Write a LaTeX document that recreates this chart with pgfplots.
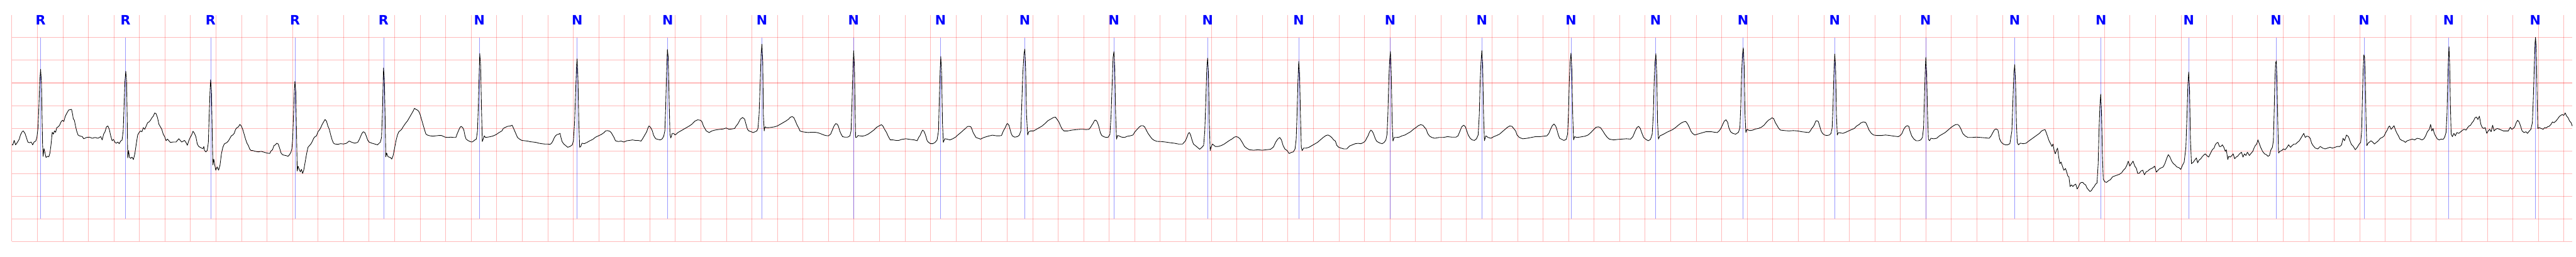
\documentclass[border=0pt]{standalone}
\usepackage{fontspec}
\usepackage{pgfplots}
\usepackage{pgfplotstable}
\pgfplotsset{compat=1.18}
\newfontfamily\lblfont{DejaVu Sans}

% ECG trace (x: horizontal position along the strip, y: vertical position, grid every 89.9 / 138.44 units)
\pgfplotstableread{
x y
42 884
45 886
50 858
55 885
62 868
68 850
72 825
78 805
82 800
88 815
93 840
98 868
104 872
110 868
115 885
120 868
126 862
130 840
134 780
137 650
140 500
143 423
146 500
148 700
150 880
152 955
155 908
158 930
162 962
168 955
172 958
176 935
180 880
184 808
188 820
192 800
196 808
200 780
205 775
210 765
215 745
220 735
225 742
230 710
236 690
242 672
248 670
252 668
256 700
258 725
262 735
266 770
270 800
275 825
280 830
290 835
295 848
305 840
315 838
325 845
335 840
345 845
355 835
360 855
365 820
370 805
375 775
380 770
385 790
390 830
395 860
400 852
405 870
410 875
415 868
420 878
425 862
430 856
434 800
437 650
440 500
443 435
446 500
448 720
450 965
453 920
456 960
460 968
465 960
470 975
475 940
480 880
485 825
490 810
495 800
500 805
505 780
510 790
515 770
520 750
525 745
530 735
535 720
540 710
545 690
550 695
555 720
560 760
565 775
570 790
575 820
580 835
585 860
590 850
595 860
600 870
610 868
620 868
630 848
640 868
650 858
655 870
660 888
665 860
670 840
675 825
680 802
685 815
690 835
695 880
700 895
705 900
710 905
715 908
718 895
720 918
725 928
730 920
734 870
737 700
740 550
742 487
745 560
748 850
750 1008
753 972
757 1012
760 1040
765 1020
770 1040
775 1010
780 940
785 900
790 880
795 875
800 870
805 860
810 845
815 830
820 825
825 815
830 790
835 780
840 775
845 760
850 770
855 790
860 820
865 850
870 875
875 890
880 912
885 920
890 920
900 925
910 928
920 925
930 930
940 935
950 938
955 922
960 915
965 890
970 885
975 875
980 880
985 905
990 935
995 945
1000 948
1010 952
1015 955
1020 945
1025 930
1028 910
1031 850
1034 700
1037 550
1039 497
1042 560
1045 850
1047 1045
1050 1015
1054 1035
1058 1050
1062 1035
1066 1060
1070 1040
1075 990
1080 940
1085 900
1090 890
1095 880
1100 865
1105 845
1110 835
1115 830
1120 805
1125 795
1130 780
1135 760
1140 745
1145 730
1150 740
1155 770
1160 790
1165 825
1170 855
1175 875
1180 880
1190 882
1200 878
1210 880
1220 876
1230 862
1240 870
1250 875
1260 870
1265 855
1270 835
1275 815
1280 805
1285 810
1290 830
1295 855
1300 868
1310 875
1320 880
1330 885
1340 868
1344 840
1347 700
1349 550
1351 415
1354 480
1357 750
1359 958
1362 935
1366 955
1370 960
1375 962
1380 972
1385 950
1390 905
1395 860
1400 825
1405 805
1410 798
1415 790
1420 775
1425 762
1430 750
1435 740
1440 725
1445 710
1450 695
1455 680
1460 662
1465 668
1470 672
1475 680
1480 700
1485 730
1490 760
1495 790
1500 818
1505 825
1515 830
1525 832
1535 830
1545 828
1555 828
1568 838
1578 840
1588 838
1598 840
1606 840
1610 820
1616 795
1620 780
1624 772
1630 780
1634 795
1638 830
1642 850
1648 858
1656 865
1663 868
1668 862
1673 855
1678 850
1682 800
1685 650
1688 450
1690 327
1693 400
1696 650
1699 865
1702 850
1706 830
1710 840
1718 838
1728 835
1738 830
1748 822
1758 810
1768 800
1773 785
1778 780
1788 772
1798 770
1804 765
1808 780
1813 800
1818 820
1823 840
1830 850
1838 858
1848 860
1858 862
1868 866
1878 868
1888 870
1898 875
1908 878
1918 880
1928 880
1938 882
1943 875
1948 860
1953 840
1958 828
1963 822
1968 820
1973 815
1976 840
1980 865
1986 880
1993 890
2000 900
2008 895
2016 885
2020 860
2024 750
2028 550
2031 400
2033 360
2036 480
2039 750
2042 900
2046 895
2050 875
2058 878
2068 870
2078 860
2088 852
2098 838
2108 830
2118 822
2128 810
2133 800
2140 798
2148 802
2153 810
2158 825
2163 840
2168 860
2178 865
2188 862
2198 868
2208 860
2218 858
2228 855
2238 858
2248 858
2258 862
2263 850
2268 835
2273 820
2278 805
2283 780
2286 770
2290 775
2294 785
2298 800
2302 825
2306 838
2310 848
2318 852
2326 855
2333 848
2338 832
2342 800
2345 650
2348 450
2351 302
2354 350
2357 600
2360 820
2363 843
2368 815
2373 815
2378 825
2383 818
2388 810
2398 800
2408 790
2418 780
2428 770
2438 758
2448 740
2458 732
2468 735
2473 745
2478 770
2483 785
2488 800
2493 805
2498 810
2508 800
2518 795
2528 792
2538 790
2548 788
2558 782
2568 790
2578 788
2588 785
2593 770
2598 760
2603 745
2608 728
2616 718
2623 728
2628 760
2633 790
2638 800
2646 805
2653 810
2660 805
2666 800
2670 785
2674 700
2678 500
2681 330
2684 270
2687 380
2689 700
2692 800
2695 775
2700 780
2708 780
2718 778
2728 775
2738 770
2748 760
2758 750
2768 740
2778 728
2783 718
2790 712
2796 718
2802 740
2808 765
2813 780
2818 800
2826 805
2838 808
2848 810
2858 808
2868 808
2878 810
2888 815
2898 822
2908 828
2918 830
2926 820
2932 795
2938 770
2944 755
2950 760
2954 775
2958 800
2963 820
2968 835
2976 838
2986 838
2994 830
2998 800
3001 650
3004 450
3007 310
3010 400
3012 650
3014 840
3018 838
3023 828
3028 830
3038 832
3048 828
3058 820
3068 808
3078 795
3088 778
3098 768
3105 762
3110 770
3116 790
3123 810
3128 830
3136 855
3146 855
3156 858
3166 858
3176 852
3191 848
3206 852
3221 855
3231 860
3236 840
3241 828
3246 808
3250 795
3254 800
3258 815
3262 835
3266 860
3271 870
3278 878
3286 878
3294 870
3301 855
3306 800
3309 600
3312 420
3314 345
3317 450
3320 750
3323 870
3328 848
3336 850
3346 855
3356 848
3366 838
3376 822
3386 808
3394 795
3401 785
3408 773
3414 772
3420 775
3424 790
3428 810
3433 825
3438 840
3446 845
3454 850
3466 840
3481 832
3496 826
3511 830
3521 830
3528 828
3532 810
3536 795
3541 780
3546 760
3549 755
3554 765
3558 790
3562 815
3566 830
3574 838
3584 835
3591 825
3596 800
3599 650
3603 450
3607 330
3610 300
3613 420
3616 700
3620 825
3624 805
3631 800
3641 800
3651 790
3661 780
3671 770
3681 755
3691 738
3701 728
3711 718
3718 716
3724 730
3730 745
3736 770
3742 790
3748 800
3761 800
3776 795
3791 792
3806 790
3816 790
3826 792
3836 790
3841 780
3846 765
3851 752
3856 735
3861 735
3866 748
3871 775
3876 810
3881 828
3888 835
3896 840
3904 838
3910 820
3914 700
3918 500
3921 350
3924 315
3927 420
3930 700
3933 850
3937 828
3941 830
3951 838
3961 840
3971 833
3981 830
3991 825
3998 805
4006 790
4014 775
4020 768
4026 768
4032 775
4038 795
4044 815
4051 832
4058 848
4066 858
4076 864
4091 865
4106 868
4121 872
4136 875
4151 880
4166 880
4176 860
4182 835
4186 815
4190 810
4194 825
4199 855
4204 880
4211 890
4218 900
4226 912
4234 900
4240 888
4244 800
4248 600
4251 420
4254 355
4257 450
4260 750
4263 920
4266 900
4271 880
4281 895
4291 895
4301 890
4311 882
4321 870
4331 858
4341 848
4348 838
4354 835
4361 838
4368 848
4376 870
4384 895
4391 905
4401 915
4416 918
4431 915
4446 918
4461 915
4476 912
4486 898
4494 868
4501 850
4508 840
4514 855
4520 890
4526 910
4534 920
4541 938
4548 932
4556 928
4562 910
4566 850
4569 700
4572 500
4575 375
4578 450
4581 700
4584 900
4587 920
4592 905
4601 905
4611 900
4621 890
4631 880
4641 870
4651 855
4661 840
4671 828
4678 825
4684 830
4691 840
4698 855
4704 862
4709 888
4716 900
4724 905
4734 910
4744 910
4754 892
4764 885
4774 878
4784 876
4794 878
4804 870
4810 860
4814 845
4819 830
4824 808
4829 795
4834 802
4839 820
4844 845
4849 862
4854 868
4862 875
4869 878
4876 870
4882 855
4886 820
4889 700
4892 500
4895 370
4898 315
4901 450
4904 750
4907 862
4911 840
4919 840
4929 838
4939 830
4949 825
4959 815
4969 805
4979 790
4989 778
4996 768
5004 762
5012 765
5019 780
5024 790
5029 815
5036 832
5044 840
5054 845
5069 840
5084 840
5099 835
5114 838
5129 838
5136 830
5142 805
5149 775
5156 765
5162 775
5166 795
5172 825
5179 845
5186 855
5194 858
5201 848
5207 825
5211 700
5214 500
5217 380
5220 308
5223 400
5226 700
5229 860
5234 830
5242 840
5252 845
5262 835
5272 828
5282 820
5292 805
5302 790
5310 778
5318 770
5326 772
5332 785
5339 800
5344 825
5352 840
5364 848
5379 845
5394 840
5409 835
5424 835
5439 832
5449 830
5456 815
5462 790
5468 768
5474 758
5480 770
5484 790
5489 822
5494 845
5502 852
5509 858
5517 852
5522 820
5525 700
5528 500
5531 380
5534 325
5537 420
5540 700
5543 855
5547 835
5554 840
5564 838
5574 835
5584 832
5594 825
5604 810
5612 795
5622 778
5630 775
5638 780
5646 800
5654 822
5662 840
5669 850
5684 855
5699 852
5714 850
5729 848
5744 850
5752 835
5759 805
5766 780
5772 772
5778 785
5784 815
5790 840
5798 852
5806 860
5814 852
5820 820
5824 700
5827 500
5830 380
5833 328
5836 450
5839 750
5842 850
5847 830
5854 825
5862 818
5872 808
5882 800
5892 792
5902 780
5912 765
5922 752
5930 745
5938 742
5944 755
5950 775
5956 800
5962 815
5970 825
5979 820
5989 815
5999 810
6009 805
6019 805
6029 805
6039 808
6049 810
6056 800
6062 785
6068 762
6074 740
6080 732
6086 748
6090 780
6096 805
6104 815
6114 820
6124 808
6129 780
6132 650
6135 450
6138 330
6141 292
6144 400
6147 700
6150 810
6154 790
6159 795
6164 798
6174 795
6184 788
6194 785
6204 778
6214 765
6222 748
6229 735
6236 728
6242 720
6248 725
6254 750
6261 770
6266 785
6272 795
6287 798
6302 800
6317 798
6332 800
6347 805
6362 808
6372 810
6377 800
6382 785
6387 775
6392 760
6396 740
6400 738
6405 742
6410 770
6415 800
6420 815
6427 825
6435 828
6444 825
6450 815
6454 780
6457 650
6460 450
6463 330
6466 400
6469 700
6472 825
6476 810
6482 812
6492 815
6502 808
6512 800
6522 792
6532 785
6540 770
6548 762
6556 750
6564 745
6572 748
6578 770
6584 795
6592 815
6600 825
6612 828
6627 828
6642 825
6657 828
6672 832
6687 835
6694 828
6700 815
6706 790
6712 775
6718 768
6724 772
6728 800
6734 830
6742 850
6750 860
6758 860
6766 855
6772 840
6776 780
6779 600
6782 420
6784 350
6787 450
6790 700
6793 850
6797 860
6802 845
6812 848
6822 845
6832 830
6842 820
6852 810
6862 795
6872 780
6880 770
6888 762
6896 760
6902 770
6908 790
6914 815
6922 830
6932 840
6947 840
6962 838
6977 840
6992 842
7007 845
7014 830
7020 810
7026 792
7032 788
7038 795
7044 850
7050 870
7057 880
7064 885
7072 885
7080 878
7087 800
7091 600
7094 450
7097 395
7100 500
7103 750
7106 870
7110 885
7117 875
7127 878
7137 875
7144 865
7152 855
7160 845
7168 835
7176 825
7184 815
7192 800
7198 795
7204 792
7208 810
7212 830
7218 860
7224 880
7228 895
7232 880
7236 920
7240 940
7244 920
7248 905
7252 960
7256 1000
7260 990
7264 1010
7270 1040
7276 1030
7280 1050
7284 1075
7288 1080
7292 1140
7297 1130
7302 1140
7307 1130
7312 1125
7317 1155
7322 1140
7327 1120
7332 1115
7337 1115
7342 1125
7347 1130
7352 1150
7357 1160
7362 1170
7367 1165
7372 1150
7377 1140
7382 1125
7387 1118
7391 1000
7394 800
7397 650
7400 575
7403 700
7406 950
7409 1095
7414 1110
7420 1115
7427 1105
7434 1098
7442 1080
7450 1075
7458 1070
7466 1065
7474 1055
7480 1040
7486 1030
7492 1010
7497 985
7502 1015
7508 1000
7514 985
7520 1015
7526 1030
7530 1060
7536 1058
7542 1045
7548 1040
7554 1068
7560 1050
7566 1045
7572 1035
7578 1030
7584 1025
7590 1015
7596 1052
7602 1040
7608 1030
7614 1025
7620 1020
7626 1000
7632 970
7638 945
7644 960
7650 985
7656 1000
7662 1008
7668 1020
7676 1025
7682 1035
7688 1010
7694 990
7700 900
7704 700
7707 520
7710 440
7713 550
7716 850
7719.7 1000
7726.6 990
7732.7 975
7737.0 965
7741.3 995
7745.6 980
7752.5 970
7758.6 955
7764.6 945
7768.1 940
7773.3 950
7780.2 960
7787.1 935
7793.1 915
7799.2 905
7803.5 885
7807.8 875
7813.0 870
7818.2 895
7823.4 895
7828.5 885
7833.7 900
7838.9 925
7842.4 915
7847.6 975
7851.0 955
7856.2 960
7862.2 950
7866.6 940
7871.7 970
7876.9 960
7882.1 955
7889.0 940
7895.9 930
7901.1 960
7906.3 940
7911.5 950
7916.7 930
7923.6 950
7930.5 935
7935.7 925
7940.0 905
7944.3 890
7949.5 880
7953.8 855
7958.1 875
7963.3 900
7970.2 925
7977.1 940
7983.2 945
7989.2 955
7994.4 950
7999.6 915
8004.8 900
8008.2 860
8010.8 700
8013.4 500
8016.0 385
8018.6 372
8021.2 500
8023.8 750
8026.4 935
8030.7 925
8037.6 920
8043.7 910
8049.7 915
8056.6 900
8061.8 885
8068.7 900
8073.9 890
8080.8 880
8086.8 880
8092.9 870
8099.8 860
8105.0 845
8110.2 830
8115.3 815
8120.5 840
8125.7 832
8132.6 835
8137.8 845
8143.0 875
8148.2 890
8155.9 905
8164.6 910
8173.2 895
8181.9 905
8190.5 910
8199.1 905
8207.8 900
8216.4 905
8225.1 900
8233.7 895
8242.3 895
8248.4 885
8253.6 845
8258.8 860
8265.7 825
8272.6 835
8277.8 860
8282.9 882
8289.8 895
8296.8 915
8303.7 900
8310.6 880
8315.8 870
8319.2 800
8321.8 600
8324.4 430
8327.0 335
8329.6 350
8332.2 500
8334.8 750
8337.4 890
8341.7 875
8346.9 868
8352.0 860
8359.0 870
8364.1 880
8371.0 870
8378.0 860
8384.9 845
8391.8 840
8398.7 830
8403.9 810
8409.1 795
8414.2 775
8417.7 770
8422.9 790
8428.1 780
8433.2 768
8438.4 795
8443.6 815
8448.8 830
8454.0 850
8460.9 858
8467.8 862
8473.0 870
8479.9 860
8488.5 855
8497.2 850
8505.8 855
8514.5 845
8523.1 848
8531.7 855
8538.6 848
8544.7 830
8550.7 805
8557.7 790
8562.0 760
8566.3 800
8570.6 785
8574.9 815
8579.2 830
8585.3 848
8592.2 855
8599.1 850
8606.0 852
8611.2 840
8616.4 810
8619.8 700
8622.4 500
8625.0 350
8626.8 285
8629.3 400
8631.9 650
8634.5 820
8638.8 835
8644.0 815
8649.2 830
8654.4 810
8661.3 815
8668.2 805
8675.1 795
8680.3 790
8687.2 795
8692.4 780
8697.6 770
8702.8 765
8708.0 750
8713.1 740
8718.3 720
8723.5 715
8728.7 730
8733.9 710
8739.1 760
8744.2 780
8749.4 785
8754.6 780
8759.8 815
8765.0 800
8770.2 790
8775.3 805
8780.5 765
8785.7 800
8790.9 790
8797.8 785
8804.7 790
8811.6 795
8818.5 800
8827.2 800
8835.8 800
8842.7 778
8847.9 790
8853.1 785
8858.3 775
8863.5 750
8868.6 735
8873.8 745
8879.0 770
8884.2 800
8891.1 810
8898.0 805
8903.2 815
8910.1 800
8915.3 790
8920.5 750
8923.9 600
8927.4 400
8930.0 260
8931.7 228
8934.3 300
8936.9 550
8939.5 785
8944.7 780
8951.6 785
8958.5 790
8963.7 780
8968.8 782
8974.0 775
8979.2 772
8986.1 760
8991.3 745
8996.5 750
9003.4 740
9010.3 725
9015.5 712
9020.7 705
9025.9 700
9031.0 705
9036.2 690
9041.4 710
9046.6 720
9051.8 740
9057.0 750
9061.0 770
}\ecg

% beat annotations
\pgfplotstableread{
x y lab
143 121 R
442 121 R
742 121 R
1039 121 R
1351 121 R
1689 121 N
2033 121 N
2352 121 N
2684 121 N
3007 121 N
3313 121 N
3610 121 N
3924 121 N
4254 121 N
4575 121 N
4897 121 N
5220 121 N
5534 121 N
5832 121 N
6140 121 N
6463 121 N
6783 121 N
7097 121 N
7401 121 N
7710 121 N
8017.7 121 N
8327.9 121 N
8625.9 121 N
8930.8 121 N
}\beats

\begin{document}
\begin{tikzpicture}
\useasboundingbox (0,0) rectangle (75.23cm,7.5cm);
\begin{axis}[
  at={(0.343cm,0.44cm)}, anchor=south west,
  scale only axis, width=74.777cm, height=6.62cm,
  xmin=41.4, xmax=9061, ymin=92, ymax=1476, y dir=reverse,
  axis line style={draw=none},
  tick style={draw=none},
  major tick length=0pt,
  xticklabels={}, yticklabels={},
  xtick={41.4,131.3,...,9040},
  ytick={230,368.44,506.89,645.33,783.78,922.22,1060.67,1199.11,1337.56,1476},
  xmajorgrids, ymajorgrids,
  major x grid style={red, opacity=0.27, line width=0.35pt},
  major y grid style={red, opacity=0.27, line width=0.55pt},
  clip=false,
  unbounded coords=jump,
]
% annotation markers
\addplot[blue, opacity=0.4, line width=0.25pt] coordinates {
(143,230)(143,1338)(143,nan)
(442,230)(442,1338)(442,nan)
(742,230)(742,1338)(742,nan)
(1039,230)(1039,1338)(1039,nan)
(1351,230)(1351,1338)(1351,nan)
(1689,230)(1689,1338)(1689,nan)
(2033,230)(2033,1338)(2033,nan)
(2352,230)(2352,1338)(2352,nan)
(2684,230)(2684,1338)(2684,nan)
(3007,230)(3007,1338)(3007,nan)
(3313,230)(3313,1338)(3313,nan)
(3610,230)(3610,1338)(3610,nan)
(3924,230)(3924,1338)(3924,nan)
(4254,230)(4254,1338)(4254,nan)
(4575,230)(4575,1338)(4575,nan)
(4897,230)(4897,1338)(4897,nan)
(5220,230)(5220,1338)(5220,nan)
(5534,230)(5534,1338)(5534,nan)
(5832,230)(5832,1338)(5832,nan)
(6140,230)(6140,1338)(6140,nan)
(6463,230)(6463,1338)(6463,nan)
(6783,230)(6783,1338)(6783,nan)
(7097,230)(7097,1338)(7097,nan)
(7401,230)(7401,1338)(7401,nan)
(7710,230)(7710,1338)(7710,nan)
(8017.7,230)(8017.7,1338)(8017.7,nan)
(8327.9,230)(8327.9,1338)(8327.9,nan)
(8625.9,230)(8625.9,1338)(8625.9,nan)
(8930.8,230)(8930.8,1338)(8930.8,nan)
};
% ECG trace
\addplot[black, line width=0.45pt, line join=round] table[x=x, y=y] {\ecg};
% beat labels
\addplot[draw=none, mark=none, nodes near coords, point meta=explicit symbolic,
  every node near coord/.append style={anchor=center, inner sep=0pt, text=blue,
    font=\lblfont\bfseries\fontsize{10.8}{12}\selectfont}]
  table[x=x, y=y, meta=lab] {\beats};
\end{axis}
\end{tikzpicture}
\end{document}
